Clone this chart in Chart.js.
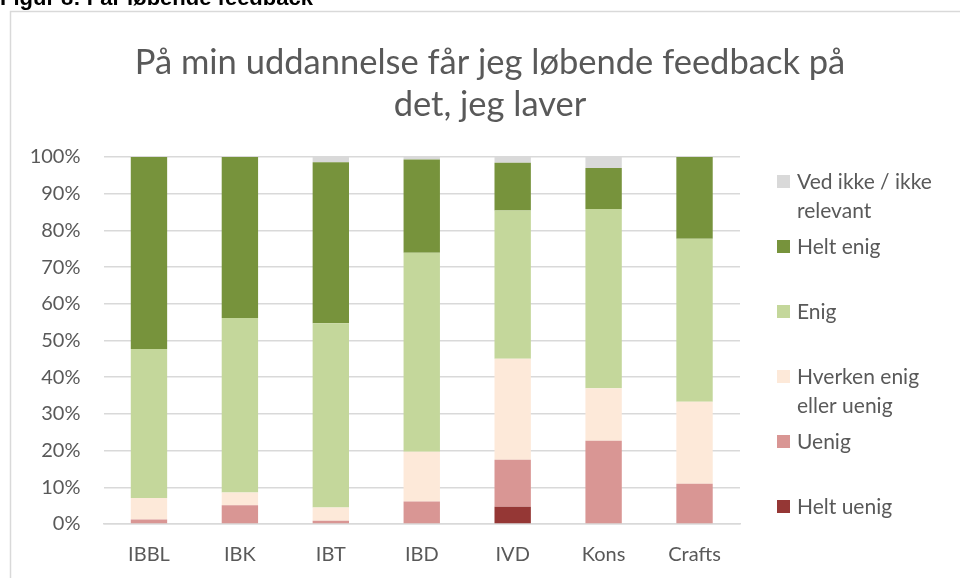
<!DOCTYPE html>
<html>
<head>
<meta charset="utf-8">
<script src="https://cdn.jsdelivr.net/npm/chart.js@4.4.0/dist/chart.umd.min.js"></script>
<style>
  html, body { margin: 0; padding: 0; background: #fff; }
  #wrap { width: 960px; height: 578px; position: relative; }
</style>
</head>
<body>
<div id="wrap"><canvas id="chart"></canvas></div>
<script>
// categories and answers (share of respondents, %)
const schools = ["IBBL", "IBK", "IBT", "IBD", "IVD", "Kons", "Crafts"];

const heltUenig = [0, 0, 0, 0, 4.7, 0, 0];
const uenig     = [1.2, 5.1, 0.9, 6.1, 12.8, 22.7, 11.0];
const hverken   = [5.9, 3.5, 3.6, 13.6, 27.5, 14.3, 22.3];
const enig      = [40.6, 47.5, 50.2, 54.2, 40.4, 48.8, 44.4];
const heltEnig  = [52.3, 43.9, 43.9, 25.4, 13.0, 11.2, 22.3];
const vedIkke   = [0, 0, 1.4, 0.7, 1.6, 3.0, 0];

const yTicks = [0, 10, 20, 30, 40, 50, 60, 70, 80, 90, 100];

const chartTitle = ["På min uddannelse får jeg løbende feedback på", "det, jeg laver"];
const caption = "Figur 8: Får løbende feedback";

const textColor = "#595959";
const gridColor = "#D9D9D9";
const baseFont = "Lato, 'Open Sans', sans-serif";

// frame, caption, title and the legend on the right, Excel style
const decorations = {
  id: "decorations",
  beforeDraw(chart) {
    const ctx = chart.ctx;
    ctx.save();
    ctx.fillStyle = "#fff";
    ctx.fillRect(0, 0, chart.width, chart.height);
    ctx.strokeStyle = gridColor;
    ctx.lineWidth = 1.5;
    ctx.strokeRect(10.5, 11.5, chart.width + 20, chart.height + 20);

    ctx.fillStyle = "#000";
    ctx.font = "bold 22px 'Liberation Sans', Arial, sans-serif";
    ctx.textAlign = "left";
    ctx.textBaseline = "alphabetic";
    ctx.fillText(caption, 0, 4.5);

    ctx.fillStyle = textColor;
    ctx.font = "34.5px " + baseFont;
    ctx.textAlign = "center";
    chartTitle.forEach(function(line, i) {
      ctx.fillText(line, 490, 74 + i * 42);
    });
    ctx.restore();
  },
  afterDraw(chart) {
    const ctx = chart.ctx;
    const sets = chart.data.datasets.slice().reverse();
    ctx.save();
    ctx.font = "21px " + baseFont;
    ctx.textBaseline = "middle";
    ctx.textAlign = "left";
    sets.forEach(function(ds, i) {
      const y = 182 + i * 65;
      ctx.fillStyle = ds.backgroundColor;
      ctx.fillRect(777, y - 7, 13, 13);
      ctx.fillStyle = textColor;
      ds.legendLines.forEach(function(line, j) {
        ctx.fillText(line, 797, y + j * 29);
      });
    });
    ctx.restore();
  }
};

function bars(label, lines, values, color) {
  return {
    label: label,
    legendLines: lines,
    data: values,
    backgroundColor: color,
    borderWidth: 0,
    barPercentage: 0.4,
    categoryPercentage: 1.0
  };
}

new Chart(document.getElementById("chart"), {
  type: "bar",
  data: {
    labels: schools,
    datasets: [
      bars("Helt uenig", ["Helt uenig"], heltUenig, "#953735"),
      bars("Uenig", ["Uenig"], uenig, "#D99694"),
      bars("Hverken enig eller uenig", ["Hverken enig", "eller uenig"], hverken, "#FDE9D9"),
      bars("Enig", ["Enig"], enig, "#C4D79B"),
      bars("Helt enig", ["Helt enig"], heltEnig, "#77933C"),
      bars("Ved ikke / ikke relevant", ["Ved ikke / ikke", "relevant"], vedIkke, "#D9D9D9")
    ]
  },
  options: {
    responsive: true,
    maintainAspectRatio: false,
    animation: false,
    layout: { padding: { top: 157, right: 220, bottom: 0, left: 0 } },
    plugins: {
      legend: { display: false },
      title: { display: false },
      tooltip: { enabled: false }
    },
    scales: {
      x: {
        stacked: true,
        grid: { display: false, drawTicks: false },
        border: { display: true, color: gridColor, width: 1.5 },
        ticks: { color: textColor, font: { family: baseFont, size: 20 }, padding: 19 },
        afterFit: function(scale) { scale.height = 54; }
      },
      y: {
        stacked: true,
        min: 0,
        max: 100,
        afterBuildTicks: function(scale) {
          scale.ticks = yTicks.map(function(v) { return { value: v }; });
        },
        grid: { color: gridColor, lineWidth: 1.5, drawTicks: false },
        border: { display: false },
        ticks: {
          color: textColor,
          font: { family: baseFont, size: 20 },
          padding: 23,
          callback: function(v) { return v + "%"; }
        },
        afterFit: function(scale) { scale.width = 103.5; }
      }
    }
  },
  plugins: [decorations]
});
</script>
</body>
</html>
